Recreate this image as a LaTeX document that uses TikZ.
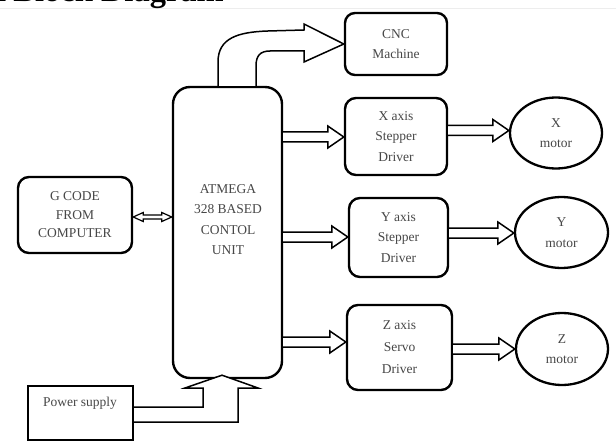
\documentclass[tikz,border=0pt]{standalone}
\usepackage{fontspec}
\setmainfont{Liberation Serif}
\usetikzlibrary{shapes.geometric,calc}
\newcommand{\boxtxt}{\fontsize{13.5}{20.5}\selectfont}
\tikzset{
  rbox/.style={draw, line width=2.4pt, rounded corners=11pt, inner sep=0pt, align=center,
    font=\boxtxt, text=black!72},
  sbox/.style={draw, line width=2.4pt, inner sep=0pt},
  motor/.style={draw, ellipse, line width=2.3pt, inner sep=0pt, align=center,
    font=\boxtxt, text=black!72},
  lbl/.style={inner sep=0pt, align=center, font=\boxtxt, text=black!72},
  blk/.style={draw, fill=white, line width=1.5pt, line join=miter},
}
% hollow block arrow from east side of #1 to west side of #2 at height #3
\newcommand{\blkarrow}[3]{%
  \draw[blk] let \p1=(#1.east), \p2=(#2.west), \p3=(0,#3) in
    (\x1,\y3+5pt) -- (\x2-16pt,\y3+5pt) -- (\x2-16pt,\y3+11pt) -- (\x2,\y3)
    -- (\x2-16pt,\y3-11pt) -- (\x2-16pt,\y3-5pt) -- (\x1,\y3-5pt);}
\begin{document}
\begin{tikzpicture}[x=1pt,y=-1pt]
\useasboundingbox (0,0) rectangle (616,441);
\fill[white] (0,0) rectangle (616,441);
% cropped heading
\draw[black!7, line width=1pt] (0,8.5) -- (616,8.5);
\node[anchor=base west, inner sep=0pt, font=\fontsize{32.5}{32.5}\selectfont\bfseries] (title) at (-9,1.5) {1\hspace{6pt}Block Diagram};

% blocks
\node[rbox, rounded corners=17pt, minimum width=109pt, minimum height=291pt] (atmega) at (227.5,232.5) {};
\node[lbl] (atext) at (228,219.5) {ATMEGA\\328 BASED\\CONTOL\\UNIT};
\node[rbox, rounded corners=10pt, minimum width=102pt, minimum height=62pt] (cnc) at (396,44) {CNC\\Machine};
\node[rbox, minimum width=102pt, minimum height=77pt] (xdrv) at (396,136.5) {X axis\\Stepper\\Driver};
\node[rbox, minimum width=99pt, minimum height=79pt] (ydrv) at (398.5,237.5) {Y axis\\Stepper\\Driver};
\node[rbox, font=\fontsize{13.5}{22}\selectfont, minimum width=105pt, minimum height=85pt] (zdrv) at (399.5,347.5) {Z axis\\Servo\\Driver};
\node[rbox, font=\fontsize{13.5}{18.5}\selectfont, minimum width=114pt, minimum height=76pt] (gcode) at (75,215) {G CODE\\FROM\\COMPUTER};
\node[sbox, minimum width=105pt, minimum height=54pt] (power) at (80.5,413) {};
\node[lbl] (ptext) at (80,403) {Power supply};
\node[motor, minimum width=92pt, minimum height=71pt] (xmot) at (556,133) {X\\motor};
\node[motor, minimum width=93pt, minimum height=71pt] (ymot) at (561.5,232.5) {Y\\motor};
\node[motor, minimum width=92pt, minimum height=72pt] (zmot) at (562,349) {Z\\motor};

% block arrows
\blkarrow{atmega}{xdrv}{137}
\blkarrow{atmega}{ydrv}{237}
\blkarrow{atmega}{zdrv}{342}
\blkarrow{xdrv}{xmot}{130.5}
\blkarrow{ydrv}{ymot}{233}
\blkarrow{zdrv}{zmot}{349}

% double arrow G code <-> controller
\draw[blk, line width=1.2pt] let \p1=(gcode.east), \p2=(atmega.west), \p3=(0,217) in
  (\x1,\y3) -- (\x1+10pt,\y3+4.5pt) -- (\x1+10pt,\y3+2pt) -- (\x2-10pt,\y3+2pt)
  -- (\x2-10pt,\y3+4.5pt) -- (\x2,\y3) -- (\x2-10pt,\y3-4.5pt) -- (\x2-10pt,\y3-2pt)
  -- (\x1+10pt,\y3-2pt) -- (\x1+10pt,\y3-4.5pt) -- cycle;

% curved arrow controller -> CNC machine
\draw[blk] (atmega.north -| 218,0) -- (218,62) .. controls (218,38) and (238,32) .. (268,31)
  -- (304,30) -- (304,24) -- (cnc.west) -- (304,62) -- (304,51) -- (270,51)
  .. controls (260,51) and (256,56) .. (256,66) -- (atmega.north -| 256,0);

% power supply arrow
\draw[blk] let \p1=(power.east), \p2=(atmega.south) in
  (\x1,-407pt) -- (203pt,-407pt) -- (203pt,-388pt) -- (185pt,-388pt) -- (222pt,\y2+4pt)
  -- (258pt,-388pt) -- (238pt,-388pt) -- (238pt,-422pt) -- (\x1,-422pt);
\end{tikzpicture}
\end{document}
